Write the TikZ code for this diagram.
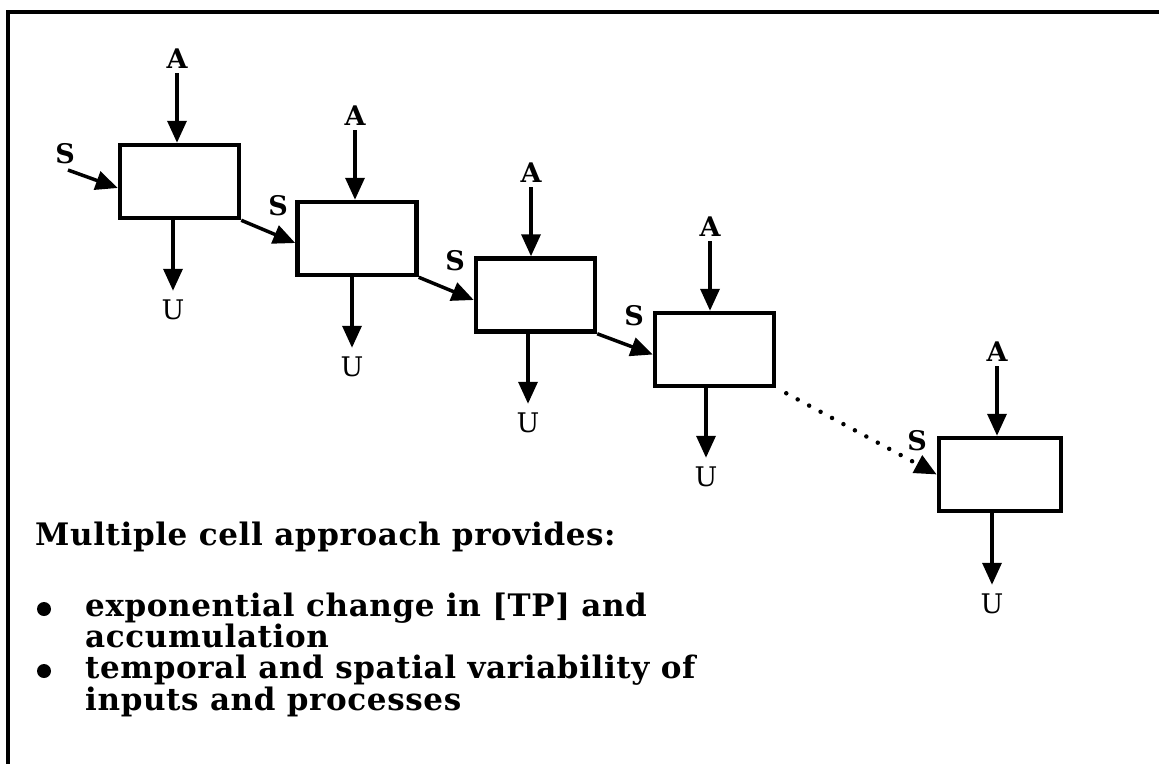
\documentclass[tikz,border=0pt]{standalone}
\usepackage{fontspec}
\setmainfont{DejaVu Serif}
\newfontfamily\widebold[LetterSpace=2,BoldFont={DejaVu Serif Bold}]{DejaVu Serif}
\usetikzlibrary{arrows.meta,calc}

\begin{document}
\begin{tikzpicture}[x=1pt,y=-1pt,
  cell/.style={draw,line width=4.5pt,minimum width=119pt,minimum height=73pt,inner sep=0pt},
  flow/.style={line width=3.5pt,-{Triangle[length=22pt,width=19pt]}},
  dotflow/.style={line width=4.5pt,line cap=round,dash pattern=on 0pt off 13pt,-{Triangle[length=22pt,width=19pt]}},
  lbl/.style={font=\fontsize{27}{27}\selectfont\bfseries,inner sep=0pt},
  ulbl/.style={font=\fontsize{27}{27}\selectfont,inner sep=0pt},
  txt/.style={font=\fontsize{31}{32}\widebold\bfseries,anchor=base west,inner sep=0pt},
  dot/.style={circle,fill,inner sep=0pt,minimum size=14pt}
]
\useasboundingbox (0,0) rectangle (1159,764);
\fill[white] (0,0) rectangle (1159,764);

% frame (top and left edges)
\draw[line width=4pt] (1159,12) -- (8,12) -- (8,764);

% cells
\node[cell] (c1) at (179.5,181.5) {};
\node[cell] (c2) at (357,238.5) {};
\node[cell] (c3) at (535.5,295) {};
\node[cell] (c4) at (714.5,349.5) {};
\node[cell,minimum width=122pt] (c5) at (1000,474.5) {};

% inputs A
\node[lbl] (a1) at (177,59) {A};
\node[lbl] (a2) at (355,116) {A};
\node[lbl] (a3) at (531,173) {A};
\node[lbl] (a4) at (710,227) {A};
\node[lbl] (a5) at (997,352) {A};
\foreach \i in {1,...,5}
  \draw[flow,shorten <=4pt] (a\i) -- (a\i |- c\i.north);

% outputs U
\node[ulbl] (u1) at (173,310) {U};
\node[ulbl] (u2) at (352,367) {U};
\node[ulbl] (u3) at (528,423) {U};
\node[ulbl] (u4) at (706,477) {U};
\node[ulbl] (u5) at (992,604) {U};
\foreach \i in {1,...,5}
  \draw[flow,shorten >=9pt] (u\i |- c\i.south) -- (u\i);

% storage transfer S
\node[lbl] (s1) at (65,154) {S};
\node[lbl] (s2) at (278,206) {S};
\node[lbl] (s3) at (455,261) {S};
\node[lbl] (s4) at (634,316) {S};
\node[lbl] (s5) at (917,441) {S};
\coordinate (s0) at (68,170);
\draw[flow] (s0) -- ($(c1.west)+(0,6.5)$);
\draw[flow] (c1.south east) -- ($(c2.west)+(0,4.5)$);
\draw[flow] (c2.south east) -- ($(c3.west)+(0,5)$);
\draw[flow] (c3.south east) -- ($(c4.west)+(0,5)$);
\draw[dotflow] ($(c4.south east)+(10,5)$) -- (c5.west);

% summary text
\node[txt] (h) at (35,545) {Multiple cell approach provides:};
\node[dot] (b1) at (44,609) {};
\node[dot] (b2) at (44,671) {};
\node[txt] (l1) at (85,616) {exponential change in [TP] and};
\node[txt] (l2) at (85,647) {accumulation};
\node[txt] (l3) at (85,678) {temporal and spatial variability of};
\node[txt] (l4) at (85,710) {inputs and processes};
\end{tikzpicture}
\end{document}
